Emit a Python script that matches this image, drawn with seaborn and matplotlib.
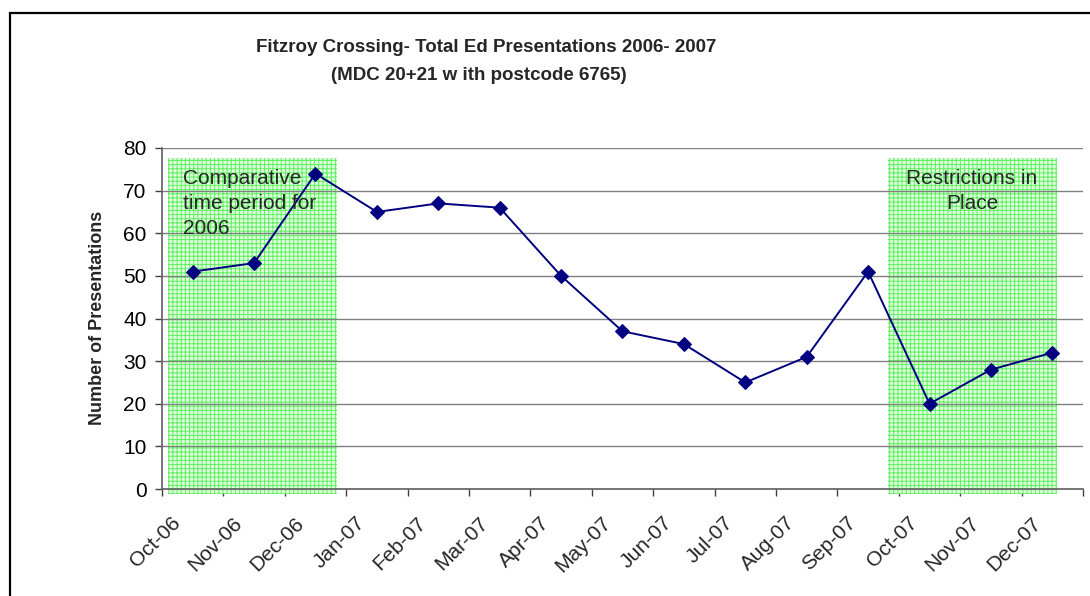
import matplotlib
matplotlib.use("Agg")
import matplotlib.pyplot as plt
import matplotlib.transforms as mtransforms
from matplotlib.patches import Rectangle
import seaborn as sns
import numpy as np
import pandas as pd

# data
months = ["Oct-06", "Nov-06", "Dec-06", "Jan-07", "Feb-07", "Mar-07", "Apr-07",
          "May-07", "Jun-07", "Jul-07", "Aug-07", "Sep-07", "Oct-07", "Nov-07", "Dec-07"]
presentations = [51, 53, 74, 65, 67, 66, 50, 37, 34, 25, 31, 51, 20, 28, 32]
y_ticks = [0, 10, 20, 30, 40, 50, 60, 70, 80]
shaded_periods = [("Oct-06", "Dec-06"), ("Oct-07", "Dec-07")]
shade_notes = ["Comparative\ntime period for\n2006", "Restrictions in\nPlace"]

# shapes were placed by hand in the original, so padding differs a bit
shade_pads = [(0.1, 0.85), (-0.18, 0.58)]

sns.set_style("white")
plt.rcParams['font.family'] = ['Liberation Sans', 'DejaVu Sans']
plt.rcParams['hatch.linewidth'] = 0.7
plt.rcParams['hatch.color'] = '#5ef05e'

df = pd.DataFrame({"month": months, "value": presentations})
df["pos"] = np.arange(len(months)) + 0.5   # points sit between the tick marks

fig = plt.figure(figsize=(10.9, 5.96), dpi=100)
ax = fig.add_axes([0.1486, 0.1795, 0.845, 0.5722])

# outer chart border (left/top visible only)
fig.add_artist(Rectangle((10 / 1090, -0.1), 1.2, 1 - 13 / 596 + 0.1,
                         transform=fig.transFigure, fill=False,
                         edgecolor='black', linewidth=1.6))

# shaded periods
for (start, end), (p0, p1) in zip(shaded_periods, shade_pads):
    i0, i1 = months.index(start), months.index(end)
    x0 = i0 + p0
    x1 = i1 + p1
    ax.add_patch(Rectangle((x0, -1.2), x1 - x0, 78.9, facecolor='#e0fde0',
                           edgecolor='#5ef05e', hatch='++++', linewidth=0,
                           clip_on=False, zorder=1))

for y in y_ticks:
    ax.axhline(y, color='#808080', linewidth=1.0, zorder=1.5)

sns.lineplot(data=df, x="pos", y="value", ax=ax, color='#000080', linewidth=1.4,
             marker='D', markersize=7, markeredgecolor='#000080', zorder=3)

ax.set_xlim(0, len(months))
ax.set_ylim(0, 80)
ax.set_yticks(y_ticks)
ax.set_yticklabels([str(t) for t in y_ticks], fontsize=15)
ax.set_xticks(np.arange(len(months) + 1))
ax.set_xticklabels([])

# rotated month labels, anchored just right of each tick mark
lab_tr = mtransforms.blended_transform_factory(ax.transData, ax.transAxes) + \
    mtransforms.ScaledTranslation(0.16, -0.31, fig.dpi_scale_trans)
for i, m in enumerate(months):
    ax.text(i, 0, m, transform=lab_tr, rotation=45, rotation_mode='anchor',
            ha='right', va='center', fontsize=15)

ax.tick_params(axis='both', direction='out', length=5, width=1, color='#404040',
               labelcolor='black', bottom=True, left=True)
ax.tick_params(axis='y', pad=6)
ax.set_xlabel("")
ax.set_ylabel("")
for side in ['top', 'right']:
    ax.spines[side].set_visible(False)
for side in ['left', 'bottom']:
    ax.spines[side].set_color('#606060')
    ax.spines[side].set_linewidth(1.2)

# notes in shaded areas
ax.text(months.index("Oct-06") + 0.34, 75.0, shade_notes[0], fontsize=15,
        ha='left', va='top', linespacing=1.38, zorder=4)
ax.text(months.index("Nov-07") + 0.19, 75.0, shade_notes[1], fontsize=15,
        ha='center', va='top', linespacing=1.38, zorder=4)

fig.text(97 / 1090, 0.466, "Number of Presentations", rotation=90, fontsize=13,
         fontweight='bold', ha='center', va='center')
fig.text(486 / 1090, 1 - 47 / 596, "Fitzroy Crossing- Total Ed Presentations 2006- 2007",
         fontsize=13.5, fontweight='bold', ha='center', va='center')
fig.text(479 / 1090, 1 - 75 / 596, "(MDC 20+21 w ith postcode 6765)",
         fontsize=13.5, fontweight='bold', ha='center', va='center')

fig.savefig("out.png", dpi=100)
